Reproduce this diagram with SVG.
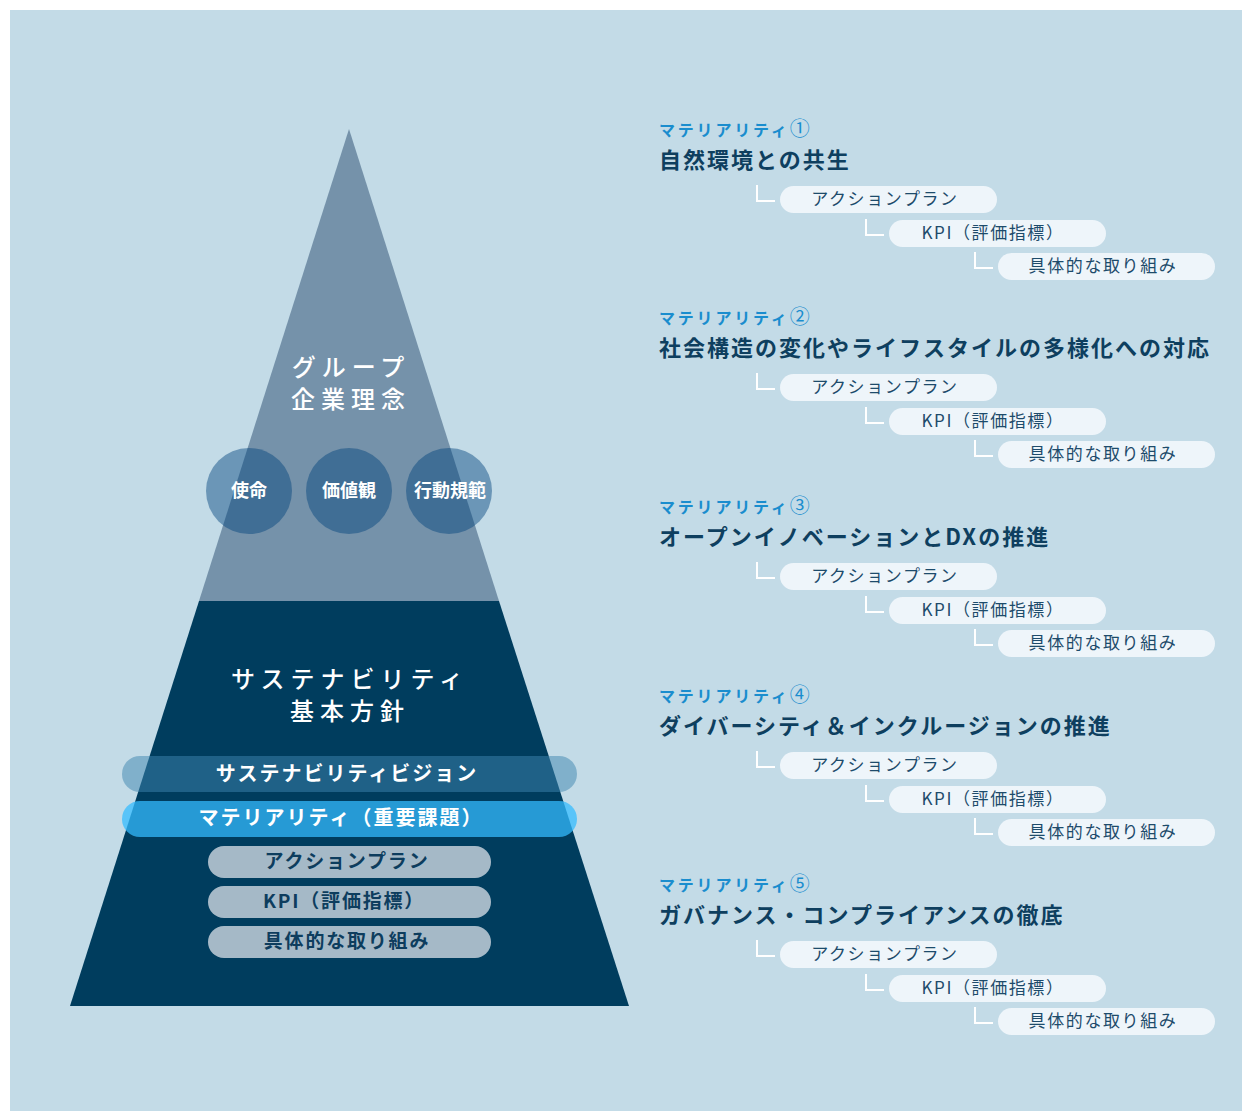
<svg xmlns="http://www.w3.org/2000/svg" width="1242" height="1111" viewBox="0 0 1242 1111">
<style>
text{font-family:"Noto Sans CJK JP","Noto Sans",sans-serif}
.pw{fill:#fff;font-size:24px;font-weight:500;letter-spacing:6px;text-anchor:middle}
.ct{fill:#fff;font-size:18px;font-weight:700;text-anchor:middle}
.bt{fill:#fff;font-size:20px;font-weight:700;letter-spacing:2px;text-anchor:middle}
.gp{fill:#a5b9c7}
.gt{fill:#0d3d5e;font-size:19px;font-weight:700;letter-spacing:1.8px;text-anchor:middle}
.ml{fill:#1a8dce;font-size:16px;font-weight:700;letter-spacing:2.8px}
.num{font-size:20px;font-weight:400;letter-spacing:0}
.mt{fill:#0e3f5f;font-size:22px;font-weight:700;letter-spacing:2px}
.sp{fill:#eef5fa}
.st{fill:#1d4b6b;font-size:17px;letter-spacing:1.6px;text-anchor:middle}
.cn{fill:none;stroke:#fff;stroke-width:2}
</style>
<rect x="10" y="10" width="1232" height="1101" fill="#c3dbe7"/>
<g id="pyramid">
<polygon points="349,129 199,601 499,601" fill="#7592aa"/>
<polygon points="199,601 499,601 629,1006 70,1006" fill="#003d5e"/>
</g>
<g id="philosophy">
<text class="pw" x="351" y="376">グループ</text>
<text class="pw" x="351" y="408">企業理念</text>
</g>
<g id="circle-mission"><circle cx="249" cy="491" r="43" fill="#00437c" fill-opacity="0.45"/><text class="ct" x="249" y="497">使命</text></g>
<g id="circle-values"><circle cx="349" cy="491" r="43" fill="#00437c" fill-opacity="0.45"/><text class="ct" x="349" y="497">価値観</text></g>
<g id="circle-conduct"><circle cx="449" cy="491" r="43" fill="#00437c" fill-opacity="0.45"/><text class="ct" x="450" y="497">行動規範</text></g>
<g id="policy">
<text class="pw" x="350" y="688">サステナビリティ</text>
<text class="pw" x="350" y="720">基本方針</text>
</g>
<g id="band-vision"><rect x="122" y="756" width="455" height="36" rx="18" fill="#3d86b0" fill-opacity="0.5"/><text class="bt" x="347" y="781">サステナビリティビジョン</text></g>
<g id="band-materiality"><rect x="122" y="801" width="455" height="36" rx="18" fill="#33bcff" fill-opacity="0.74"/><text class="bt" x="341" y="825">マテリアリティ（重要課題）</text></g>
<g id="band-action"><rect class="gp" x="208" y="846" width="283" height="32" rx="16"/><text class="gt" x="347" y="868">アクションプラン</text></g>
<g id="band-kpi"><rect class="gp" x="208" y="886" width="283" height="32" rx="16"/><text class="gt" x="344" y="908">KPI（評価指標）</text></g>
<g id="band-initiatives"><rect class="gp" x="208" y="926" width="283" height="32" rx="16"/><text class="gt" x="347" y="948">具体的な取り組み</text></g>

<g id="connectors">
<g transform="translate(0,0)"><polyline class="cn" points="757,185 757,201 775,201"/><polyline class="cn" points="866,219 866,235 884,235"/><polyline class="cn" points="975,252 975,268 993,268"/></g>
<g transform="translate(0,188)"><polyline class="cn" points="757,185 757,201 775,201"/><polyline class="cn" points="866,219 866,235 884,235"/><polyline class="cn" points="975,252 975,268 993,268"/></g>
<g transform="translate(0,377)"><polyline class="cn" points="757,185 757,201 775,201"/><polyline class="cn" points="866,219 866,235 884,235"/><polyline class="cn" points="975,252 975,268 993,268"/></g>
<g transform="translate(0,566)"><polyline class="cn" points="757,185 757,201 775,201"/><polyline class="cn" points="866,219 866,235 884,235"/><polyline class="cn" points="975,252 975,268 993,268"/></g>
<g transform="translate(0,755)"><polyline class="cn" points="757,185 757,201 775,201"/><polyline class="cn" points="866,219 866,235 884,235"/><polyline class="cn" points="975,252 975,268 993,268"/></g>
</g>

<defs>
<g id="subs">
<rect class="sp" x="780" y="186" width="217" height="27" rx="13.5"/><text class="st" x="885" y="205">アクションプラン</text>
<rect class="sp" x="889" y="220" width="217" height="27" rx="13.5"/><text class="st" x="993" y="239">KPI（評価指標）</text>
<rect class="sp" x="998" y="253" width="217" height="27" rx="13.5"/><text class="st" x="1103" y="272">具体的な取り組み</text>
</g>
</defs>

<g id="materiality-1">
<text class="ml" x="659" y="136">マテリアリティ<tspan class="num">①</tspan></text>
<text class="mt" x="659" y="168">自然環境との共生</text>
<use href="#subs"/>
</g>
<g id="materiality-2" transform="translate(0,188)">
<text class="ml" x="659" y="136">マテリアリティ<tspan class="num">②</tspan></text>
<text class="mt" x="659" y="168">社会構造の変化やライフスタイルの多様化への対応</text>
<use href="#subs"/>
</g>
<g id="materiality-3" transform="translate(0,377)">
<text class="ml" x="659" y="136">マテリアリティ<tspan class="num">③</tspan></text>
<text class="mt" x="659" y="168">オープンイノベーションとDXの推進</text>
<use href="#subs"/>
</g>
<g id="materiality-4" transform="translate(0,566)">
<text class="ml" x="659" y="136">マテリアリティ<tspan class="num">④</tspan></text>
<text class="mt" x="659" y="168">ダイバーシティ＆インクルージョンの推進</text>
<use href="#subs"/>
</g>
<g id="materiality-5" transform="translate(0,755)">
<text class="ml" x="659" y="136">マテリアリティ<tspan class="num">⑤</tspan></text>
<text class="mt" x="659" y="168">ガバナンス・コンプライアンスの徹底</text>
<use href="#subs"/>
</g>
</svg>
